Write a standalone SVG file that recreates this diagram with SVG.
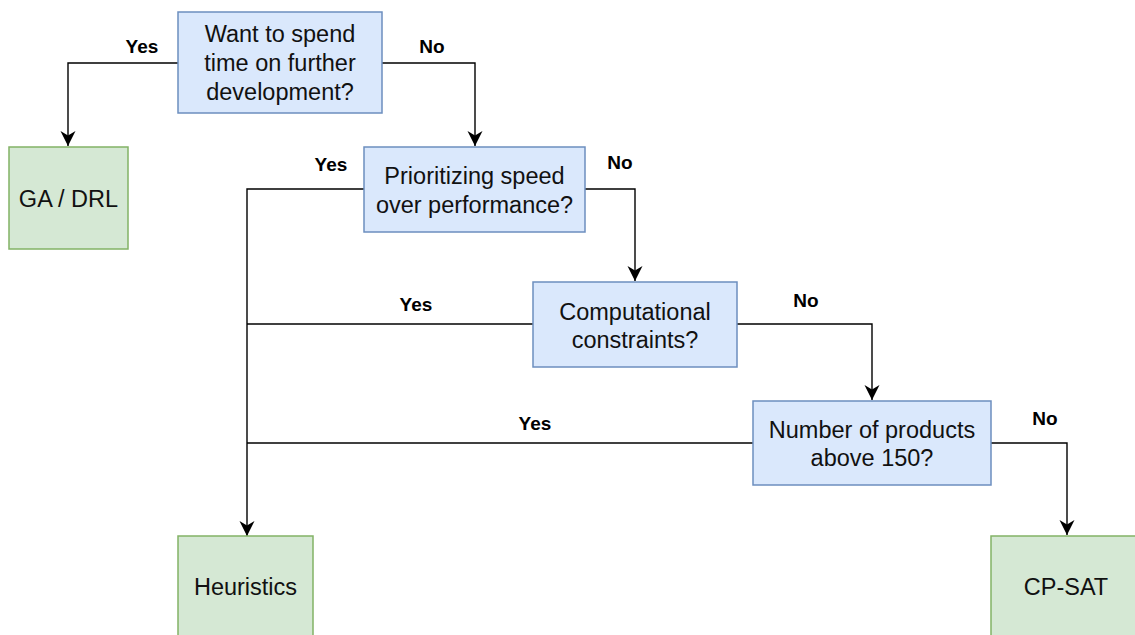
<svg xmlns="http://www.w3.org/2000/svg" width="1135" height="635" viewBox="0 0 1135 635">
  <style>
    .q { fill: #dae8fc; stroke: #6c8ebf; stroke-width: 1.5; }
    .a { fill: #d5e8d4; stroke: #82b366; stroke-width: 1.5; }
    .t { font-family: "Liberation Sans", Arial, sans-serif; font-size: 23.5px; fill: #111; text-anchor: middle; }
    .lbl { font-family: "Liberation Sans", Arial, sans-serif; font-size: 19px; font-weight: bold; fill: #000; text-anchor: middle; }
    .edge { fill: none; stroke: #000; stroke-width: 1.4; }
  </style>
  <defs>
    <marker id="arrow" markerUnits="userSpaceOnUse" markerWidth="16" markerHeight="16" viewBox="0 0 16 16" refX="15" refY="8" orient="auto">
      <path d="M0,0.5 L15,8 L0,15.5 L4.5,8 z" fill="#000"/>
    </marker>
  </defs>

  <rect width="1135" height="635" fill="#fff"/>

  <!-- connectors -->
  <g id="connectors">
    <path class="edge" d="M178,63 H68 V146" marker-end="url(#arrow)"/>
    <path class="edge" d="M382,63 H475 V146" marker-end="url(#arrow)"/>
    <path class="edge" d="M364,189 H247 V536" marker-end="url(#arrow)"/>
    <path class="edge" d="M585,189 H635 V281" marker-end="url(#arrow)"/>
    <path class="edge" d="M533,324 H247"/>
    <path class="edge" d="M737,324 H872 V400" marker-end="url(#arrow)"/>
    <path class="edge" d="M753,443 H247"/>
    <path class="edge" d="M991,443 H1067 V535" marker-end="url(#arrow)"/>

    <text class="lbl" x="142" y="53">Yes</text>
    <text class="lbl" x="432" y="53">No</text>
    <text class="lbl" x="331" y="171">Yes</text>
    <text class="lbl" x="620" y="169">No</text>
    <text class="lbl" x="416" y="311">Yes</text>
    <text class="lbl" x="806" y="307">No</text>
    <text class="lbl" x="535" y="430">Yes</text>
    <text class="lbl" x="1045" y="425">No</text>
  </g>

  <!-- decision nodes -->
  <g id="q-develop">
    <rect class="q" x="178" y="12" width="204" height="101"/>
    <text class="t" x="280" y="42">Want to spend</text>
    <text class="t" x="280" y="71">time on further</text>
    <text class="t" x="280" y="100">development?</text>
  </g>
  <g id="q-speed">
    <rect class="q" x="364" y="147" width="221" height="85"/>
    <text class="t" x="474.5" y="184">Prioritizing speed</text>
    <text class="t" x="474.5" y="213">over performance?</text>
  </g>
  <g id="q-compute">
    <rect class="q" x="533" y="282" width="204" height="85"/>
    <text class="t" x="635" y="320">Computational</text>
    <text class="t" x="635" y="348">constraints?</text>
  </g>
  <g id="q-products">
    <rect class="q" x="753" y="401" width="238" height="84"/>
    <text class="t" x="872" y="438">Number of products</text>
    <text class="t" x="872" y="466">above 150?</text>
  </g>

  <!-- outcome nodes -->
  <g id="ga-drl">
    <rect class="a" x="9" y="147" width="119" height="102"/>
    <text class="t" x="68.5" y="207">GA / DRL</text>
  </g>
  <g id="heuristics">
    <rect class="a" x="178" y="536" width="135" height="110"/>
    <text class="t" x="245.5" y="595">Heuristics</text>
  </g>
  <g id="cp-sat">
    <rect class="a" x="991" y="536" width="150" height="110"/>
    <text class="t" x="1066" y="595">CP-SAT</text>
  </g>
</svg>
